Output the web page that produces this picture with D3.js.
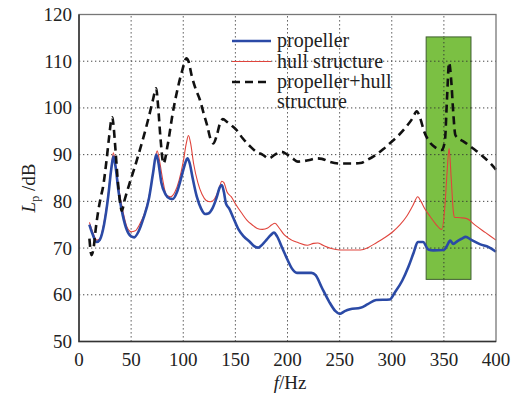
<!DOCTYPE html>
<html>
<head>
<meta charset="utf-8">
<script src="https://cdn.jsdelivr.net/npm/d3@7"></script>
</head>
<body style="margin:0">
<svg id="chart" width="515" height="399" font-family="Liberation Serif"></svg>
<script>
// [frequency Hz, Lp dB]
const propeller = [[10,75],[13,73],[17,71.3],[20,71.8],[24,75],[28,81],[31,87],[33,89.6],[35,87.5],[38,82],[42,77],[46,73.8],[50,72.5],[53,72.3],[57,73.5],[62,76.5],[67,80.5],[71,86],[74,90],[76,88.5],[79,84],[83,81.5],[87,80.6],[90,80.5],[94,82],[98,85],[101,87.5],[104,89.2],[106,88.3],[109,85],[113,81],[117,78.5],[121,77.3],[124,77.4],[128,78.5],[132,80.8],[135,83],[137,83.5],[139,82],[141,79.5],[144,78.5],[148,76.5],[153,74],[158,72.5],[164,71.3],[168,70.4],[172,70.1],[176,70.8],[180,71.8],[184,72.8],[187,73.3],[190,72.5],[195,70],[200,67.5],[204,65.7],[209,64.7],[223,64.7],[227,64.2],[233,61.5],[240,58.5],[246,56.5],[250,55.9],[255,56.5],[260,56.9],[270,57.2],[277,58],[285,58.9],[298,59],[303,60.5],[310,63],[316,66],[321,69],[325,71.3],[330,71.3],[335,69.7],[340,69.5],[350,69.6],[353,70.5],[356,71.6],[359,70.9],[363,71.5],[367,72],[371,72.4],[376,71.8],[385,70.8],[393,70.2],[400,69.2]];

const hull = [[10,75.5],[13,73.5],[17,71.7],[20,72],[24,75.5],[28,81.5],[31,87.5],[33,90.4],[35,88],[38,83],[42,78],[46,74.5],[50,73.5],[54,73.7],[58,75],[63,77.5],[68,82],[72,87.5],[75,90.8],[77,89],[80,85],[84,81.3],[88,81],[92,82],[96,84.5],[100,88.5],[103,92.5],[105,94.1],[107,92.5],[110,88],[114,84],[118,81.5],[122,80.2],[126,79.9],[130,80.5],[134,82.5],[137,84.3],[139,84],[142,82],[146,81],[150,79.5],[156,77.5],[161,76],[166,75],[171,74.2],[176,74],[181,74.3],[185,75],[188,75.3],[192,74.3],[197,72.8],[204,71.7],[210,71.2],[219,70.6],[225,71],[229,71.1],[234,70.6],[242,69.9],[250,69.6],[270,69.6],[278,70.2],[285,71.1],[293,72.2],[301,73.5],[308,75],[314,76.7],[320,79],[325,81],[328,80],[332,78.3],[337,76.7],[342,75.2],[348,74],[351,79],[353,86],[355,91.3],[357,85],[359,78],[360,76.6],[366,76.5],[372,76.3],[380,74.9],[390,73.3],[400,71.7]];

const combined = [[10,72],[12,68.5],[14,70],[16,74],[18.5,78],[21,81],[23,83],[26,88],[29,94],[31,97.5],[32,98],[33,96.5],[35,91],[37,85],[39,80.5],[41,78],[44,80.5],[48,83.5],[53,87],[59,91.5],[64,95.5],[68,99],[71,101.8],[74,104.2],[76,100],[78,94],[81,88.1],[85,92],[90,99],[95,104.5],[99,108],[103,110.6],[105,110],[108,107],[112,104],[116,101.7],[120,98.5],[123,96.2],[126,93.5],[129,92.4],[132,94],[135,96.5],[138,97.6],[142,97],[146,96.3],[151,95.3],[157,93.5],[164,91.8],[170,90.6],[176,90],[182,89.2],[188,90],[194,90.6],[200,90],[205,89.2],[210,88.5],[220,88.8],[228,89.2],[233,89.1],[240,88.5],[250,88.1],[260,88.1],[270,88.2],[276,88.8],[285,90],[292,91.2],[298,92.4],[306,94],[314,96],[320,97.8],[324,99.3],[327,98],[331,95],[336,92.8],[342,91.5],[348,91],[351,93],[353,102],[355,109.7],[357,106],[359,99],[361,94.2],[365,93.3],[369,92.8],[375,91.8],[380,91],[388,89.5],[394,88.3],[400,86.8]];

const xTicks = [0, 50, 100, 150, 200, 250, 300, 350, 400];
const yTicks = [50, 60, 70, 80, 90, 100, 110, 120];
const highlight = { f0: 333, f1: 376, l0: 63.3, l1: 115.2 };
const legendItems = [
  { label: ['propeller'], color: '#2b4aa6', width: 2.6, dash: null },
  { label: ['hull structure'], color: '#e0443c', width: 1.1, dash: null },
  { label: ['propeller+hull', 'structure'], color: '#111', width: 2.6, dash: '8,5' }
];

const FONT = 'Liberation Serif';
const svg = d3.select('#chart');
const margin = { left: 79, right: 19, top: 14.5, bottom: 57.5 };
const W = 515, H = 399;

const x = d3.scaleLinear().domain([0, 400]).range([margin.left, W - margin.right]);
const y = d3.scaleLinear().domain([50, 120]).range([H - margin.bottom, margin.top]);

// grid
const grid = svg.append('g').attr('stroke', '#444').attr('stroke-width', 1).attr('stroke-dasharray', '1.3,2.7');
grid.selectAll('.gx').data(xTicks.slice(1, -1)).join('line')
  .attr('x1', (d) => x(d)).attr('x2', (d) => x(d))
  .attr('y1', y(50)).attr('y2', y(120));
grid.selectAll('.gy').data(yTicks.slice(1, -1)).join('line')
  .attr('x1', x(0)).attr('x2', x(400))
  .attr('y1', (d) => y(d)).attr('y2', (d) => y(d));

// green highlight box
svg.append('rect')
  .attr('x', x(highlight.f0)).attr('y', y(highlight.l1))
  .attr('width', x(highlight.f1) - x(highlight.f0))
  .attr('height', y(highlight.l0) - y(highlight.l1))
  .attr('fill', '#7bc043').attr('stroke', '#3f5f30').attr('stroke-width', 1);

// dotted grid stays visible inside the box
const grid2 = svg.append('g').attr('stroke', '#333').attr('stroke-width', 1).attr('stroke-dasharray', '1.3,2.7');
grid2.append('line').attr('x1', x(350)).attr('x2', x(350)).attr('y1', y(highlight.l0)).attr('y2', y(highlight.l1));
grid2.selectAll('line.h').data(yTicks.filter((d) => d > highlight.l0 && d < highlight.l1)).join('line')
  .attr('class', 'h')
  .attr('x1', x(highlight.f0)).attr('x2', x(highlight.f1))
  .attr('y1', (d) => y(d)).attr('y2', (d) => y(d));

const line = d3.line().x((d) => x(d[0])).y((d) => y(d[1])).curve(d3.curveMonotoneX);

svg.append('path').datum(hull).attr('d', line)
  .attr('fill', 'none').attr('stroke', '#e0443c').attr('stroke-width', 1.1);
svg.append('path').datum(propeller).attr('d', line)
  .attr('fill', 'none').attr('stroke', '#2b4aa6').attr('stroke-width', 2.6);
svg.append('path').datum(combined).attr('d', line)
  .attr('fill', 'none').attr('stroke', '#111').attr('stroke-width', 2.6).attr('stroke-dasharray', '8,5');

// frame
svg.append('rect')
  .attr('x', x(0)).attr('y', y(120))
  .attr('width', x(400) - x(0)).attr('height', y(50) - y(120))
  .attr('fill', 'none').attr('stroke', '#777').attr('stroke-width', 1.3);
svg.append('path')
  .attr('d', `M${x(0)},${y(120)}V${y(50)}H${x(400)}`)
  .attr('fill', 'none').attr('stroke', '#333').attr('stroke-width', 1.5);

// tick labels
svg.append('g').selectAll('text').data(yTicks).join('text')
  .attr('x', x(0) - 7).attr('y', (d) => y(d) + 6.5)
  .attr('text-anchor', 'end').attr('font-size', 19).attr('fill', '#222')
  .style('font-family', FONT)
  .text((d) => d);
svg.append('g').selectAll('text').data(xTicks).join('text')
  .attr('x', (d) => x(d)).attr('y', y(50) + 24)
  .attr('text-anchor', 'middle').attr('font-size', 19).attr('fill', '#222')
  .style('font-family', FONT)
  .text((d) => d);

// axis titles
const xt = svg.append('text').attr('x', 290).attr('y', 389).attr('text-anchor', 'middle')
  .attr('font-size', 19).attr('fill', '#222').style('font-family', FONT);
xt.append('tspan').attr('font-style', 'italic').text('f');
xt.append('tspan').text('/Hz');

const yt = svg.append('text').attr('transform', 'translate(35,188) rotate(-90)')
  .attr('text-anchor', 'middle').attr('font-size', 19).attr('fill', '#222').style('font-family', FONT);
yt.append('tspan').attr('font-style', 'italic').text('L');
yt.append('tspan').attr('font-size', 12).attr('dy', 4).text('p');
yt.append('tspan').attr('dy', -4).text(' /dB');

// legend
const lg = svg.append('g');
legendItems.forEach((item, i) => {
  const ly = 41 + i * 20.5;
  lg.append('line').attr('x1', 232).attr('x2', 271).attr('y1', ly).attr('y2', ly)
    .attr('stroke', item.color).attr('stroke-width', item.width)
    .attr('stroke-dasharray', item.dash);
  item.label.forEach((t, j) => {
    lg.append('text').attr('x', 277).attr('y', ly + 6 + j * 19.5)
      .attr('font-size', 20).attr('fill', '#222').style('font-family', FONT).text(t);
  });
});
</script>
</body>
</html>
